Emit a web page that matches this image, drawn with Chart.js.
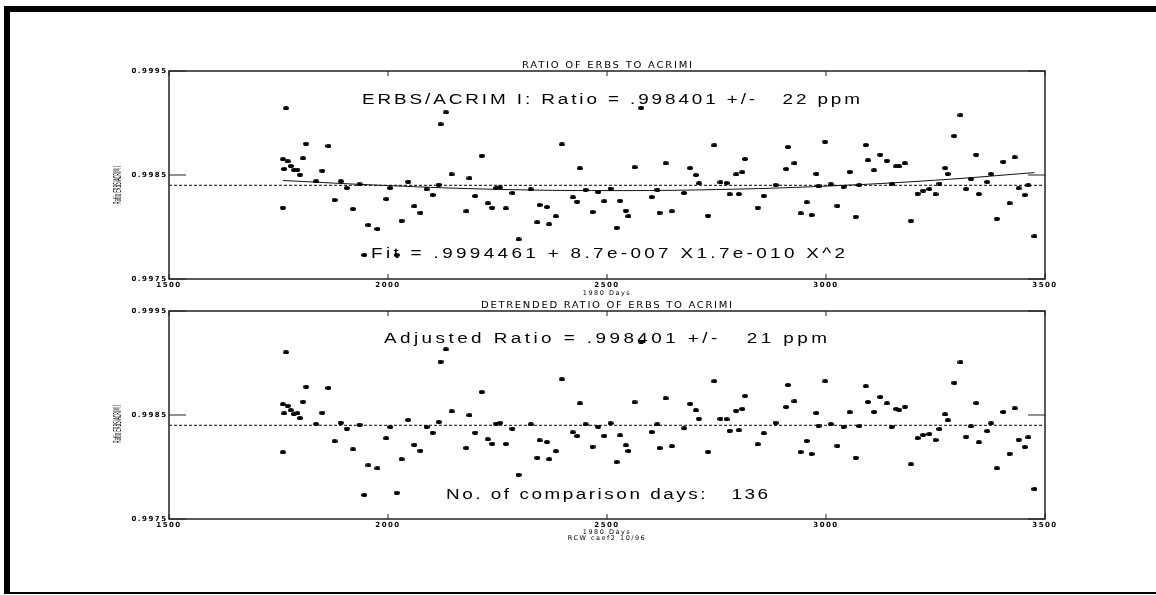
<!DOCTYPE html>
<html>
<head>
<meta charset="utf-8">
<script src="https://cdn.jsdelivr.net/npm/chart.js@4"></script>
<style>
  html, body { margin: 0; padding: 0; background: #fff; }
  body { width: 1156px; height: 595px; position: relative; overflow: hidden; }
  #frame { position: absolute; left: 4px; top: 6px; width: 1152px; height: 588px; box-sizing: border-box;
           border-top: 6px solid #000; border-left: 6px solid #000; border-bottom: 2px solid #000; }
  canvas { position: absolute; left: 0; }
  #topChart { top: 0; }
  #bottomChart { top: 295px; }
</style>
</head>
<body>
<div id="frame"></div>
<canvas id="topChart" width="1156" height="300"></canvas>
<canvas id="bottomChart" width="1156" height="300"></canvas>
<script>
// 1980 day numbers of the 136 comparison days
const days = [
  1760, 1760, 1763, 1767, 1771, 1778, 1785, 1793, 1799, 1806,
  1813, 1836, 1850, 1864, 1878, 1892, 1906, 1920, 1935, 1946,
  1955, 1976, 1996, 2005, 2020, 2031, 2046, 2060, 2074, 2088,
  2102, 2116, 2120, 2132, 2145, 2179, 2186, 2199, 2214, 2228,
  2238, 2247, 2256, 2269, 2284, 2298, 2326, 2341, 2346, 2363,
  2368, 2383, 2397, 2422, 2432, 2438, 2451, 2467, 2480, 2494,
  2508, 2522, 2530, 2543, 2549, 2563, 2578, 2602, 2615, 2620,
  2634, 2648, 2676, 2690, 2703, 2710, 2731, 2745, 2759, 2773,
  2780, 2795, 2801, 2809, 2815, 2844, 2858, 2885, 2909, 2913,
  2928, 2942, 2956, 2967, 2978, 2983, 2998, 3011, 3026, 3040,
  3054, 3068, 3076, 3091, 3096, 3110, 3124, 3139, 3150, 3160,
  3167, 3180, 3194, 3209, 3222, 3236, 3250, 3259, 3272, 3278,
  3293, 3307, 3320, 3331, 3343, 3349, 3368, 3377, 3390, 3405,
  3419, 3431, 3440, 3454, 3462, 3476
];

// ERBS / ACRIM I ratio
const ratio = [
  0.998651, 0.998186, 0.998558, 0.999141, 0.998631, 0.998587, 0.998548, 0.998551, 0.998503, 0.998660,
  0.998801, 0.998439, 0.998542, 0.998779, 0.998260, 0.998439, 0.998375, 0.998173, 0.998410, 0.997731,
  0.998019, 0.997981, 0.998269, 0.998375, 0.997731, 0.998061, 0.998436, 0.998199, 0.998138, 0.998362,
  0.998308, 0.998407, 0.998987, 0.999103, 0.998506, 0.998151, 0.998468, 0.998298, 0.998686, 0.998228,
  0.998186, 0.998375, 0.998381, 0.998179, 0.998327, 0.997881, 0.998362, 0.998045, 0.998212, 0.998192,
  0.998026, 0.998103, 0.998795, 0.998285, 0.998244, 0.998564, 0.998359, 0.998144, 0.998337, 0.998247,
  0.998369, 0.997994, 0.998253, 0.998157, 0.998103, 0.998574, 0.999147, 0.998288, 0.998359, 0.998138,
  0.998612, 0.998151, 0.998327, 0.998567, 0.998500, 0.998420, 0.998109, 0.998785, 0.998429, 0.998423,
  0.998314, 0.998506, 0.998317, 0.998526, 0.998654, 0.998186, 0.998301, 0.998404, 0.998558, 0.998769,
  0.998612, 0.998131, 0.998237, 0.998115, 0.998513, 0.998391, 0.998821, 0.998410, 0.998205, 0.998388,
  0.998529, 0.998099, 0.998404, 0.998788, 0.998641, 0.998545, 0.998696, 0.998638, 0.998413, 0.998583,
  0.998583, 0.998612, 0.998061, 0.998321, 0.998349, 0.998365, 0.998314, 0.998417, 0.998567, 0.998510,
  0.998875, 0.999074, 0.998365, 0.998462, 0.998696, 0.998317, 0.998433, 0.998510, 0.998080, 0.998628,
  0.998228, 0.998670, 0.998372, 0.998308, 0.998401, 0.997910
];

// detrended (adjusted) ratio
const adjusted = [
  0.998603, 0.998141, 0.998516, 0.999103, 0.998590, 0.998545, 0.998510, 0.998516, 0.998471, 0.998628,
  0.998772, 0.998413, 0.998522, 0.998760, 0.998247, 0.998426, 0.998369, 0.998170, 0.998407, 0.997731,
  0.998016, 0.997987, 0.998276, 0.998385, 0.997753, 0.998074, 0.998452, 0.998215, 0.998157, 0.998385,
  0.998330, 0.998433, 0.999013, 0.999131, 0.998535, 0.998183, 0.998497, 0.998330, 0.998721, 0.998266,
  0.998224, 0.998417, 0.998423, 0.998221, 0.998369, 0.997926, 0.998410, 0.998090, 0.998256, 0.998240,
  0.998074, 0.998151, 0.998843, 0.998333, 0.998298, 0.998612, 0.998410, 0.998196, 0.998388, 0.998301,
  0.998420, 0.998048, 0.998304, 0.998208, 0.998154, 0.998622, 0.999205, 0.998337, 0.998410, 0.998183,
  0.998660, 0.998199, 0.998372, 0.998609, 0.998545, 0.998465, 0.998147, 0.998824, 0.998465, 0.998458,
  0.998349, 0.998542, 0.998353, 0.998558, 0.998683, 0.998218, 0.998324, 0.998426, 0.998577, 0.998788,
  0.998631, 0.998144, 0.998250, 0.998125, 0.998519, 0.998397, 0.998824, 0.998413, 0.998205, 0.998388,
  0.998526, 0.998090, 0.998394, 0.998776, 0.998625, 0.998529, 0.998673, 0.998612, 0.998388, 0.998558,
  0.998551, 0.998580, 0.998026, 0.998279, 0.998308, 0.998317, 0.998260, 0.998365, 0.998506, 0.998449,
  0.998811, 0.999006, 0.998292, 0.998391, 0.998615, 0.998237, 0.998346, 0.998420, 0.997987, 0.998529,
  0.998128, 0.998564, 0.998263, 0.998192, 0.998285, 0.997788
];

// quadratic fit curve
const fitDays = [1760, 2000, 2250, 2500, 2750, 3000, 3250, 3476];
const fitRatio = [0.998447, 0.998398, 0.998362, 0.998350, 0.998360, 0.998393, 0.998450, 0.998523];

const meanRatio = 0.998401;
const xTicks = [1500, 2000, 2500, 3000, 3500];
const yTicks = [0.9975, 0.9985, 0.9995];

// small flattened dot like the plotter symbol
const dot = document.createElement('canvas');
dot.width = 6; dot.height = 4;
const dctx = dot.getContext('2d');
dctx.fillStyle = '#000';
dctx.beginPath();
dctx.ellipse(3, 2, 3, 2, 0, 0, Math.PI * 2);
dctx.fill();

// widen the glyphs and stretch text to the width it has in the plot
function fitText(ctx, text, x0, x1, y, font, sx) {
  ctx.save();
  ctx.font = font;
  ctx.letterSpacing = '0px';
  const w = ctx.measureText(text).width;
  ctx.translate(x0, y);
  ctx.scale(sx, 1);
  ctx.letterSpacing = (((x1 - x0) / sx - w) / (text.length - 1)) + 'px';
  ctx.textAlign = 'left';
  ctx.textBaseline = 'alphabetic';
  ctx.fillText(text, 0, 0);
  ctx.restore();
}

const panelPlugin = {
  id: 'panel',
  beforeDraw(chart) {
    chart.ctx.letterSpacing = '1.5px';
  },
  afterDraw(chart, args, o) {
    const ctx = chart.ctx;
    const a = chart.chartArea;
    const xs = chart.scales.x, ys = chart.scales.y;
    ctx.save();
    ctx.letterSpacing = '0px';
    ctx.strokeStyle = '#222';
    ctx.lineWidth = 1.5;
    ctx.strokeRect(a.left, a.top, a.right - a.left, a.bottom - a.top);

    // inward tick marks
    ctx.lineWidth = 1;
    ctx.beginPath();
    ys.ticks.forEach(t => {
      const py = ys.getPixelForValue(t.value);
      ctx.moveTo(a.left, py); ctx.lineTo(a.left + 17, py);
      ctx.moveTo(a.right, py); ctx.lineTo(a.right - 17, py);
    });
    xs.ticks.forEach(t => {
      const px = xs.getPixelForValue(t.value);
      ctx.moveTo(px, a.top); ctx.lineTo(px, a.top + 5);
      ctx.moveTo(px, a.bottom); ctx.lineTo(px, a.bottom - 5);
    });
    ctx.stroke();

    ctx.fillStyle = '#000';
    fitText(ctx, o.title, o.titleX[0], o.titleX[1], o.titleY, '8px "DejaVu Sans"', 1.25);
    o.notes.forEach(n => fitText(ctx, n.text, n.x0, n.x1, n.y, '14px "Liberation Sans"', 1.35));

    // y axis label, very condensed
    const label = 'Ratio ERBS/ACRIM I';
    ctx.translate(118, o.labelY);
    ctx.rotate(-Math.PI / 2);
    ctx.font = '10px "DejaVu Sans"';
    const lw = ctx.measureText(label).width;
    ctx.scale(38 / lw, 1);
    ctx.textAlign = 'center';
    ctx.textBaseline = 'middle';
    ctx.fillText(label, 0, 0);
    ctx.restore();
  }
};

function makePanel(id, values, extra, opts) {
  const tickFont = { family: 'DejaVu Sans', size: 7, weight: 'bold' };
  const datasets = [{
    data: days.map((d, i) => ({ x: d, y: values[i] })),
    pointStyle: dot,
    pointRadius: 3,
    showLine: false
  }].concat(extra).concat([{
    data: [{ x: 1500, y: meanRatio }, { x: 3500, y: meanRatio }],
    showLine: true,
    borderColor: '#000',
    borderWidth: 1,
    borderDash: [3, 2],
    pointRadius: 0
  }]);

  return new Chart(document.getElementById(id), {
    type: 'scatter',
    data: { datasets: datasets },
    plugins: [panelPlugin],
    options: {
      responsive: false,
      animation: false,
      devicePixelRatio: 1,
      layout: { padding: { left: 0, right: 111, top: opts.padTop, bottom: 0 } },
      plugins: {
        legend: { display: false },
        tooltip: { enabled: false },
        panel: opts.panel
      },
      scales: {
        x: {
          type: 'linear', min: 1500, max: 3500,
          afterBuildTicks: s => { s.ticks = xTicks.map(v => ({ value: v })); },
          afterFit: s => { s.height = opts.xHeight; },
          grid: { display: false, drawTicks: false },
          border: { display: false },
          ticks: { padding: 1.5, color: '#000', font: tickFont, maxRotation: 0, autoSkip: false,
                   callback: v => String(v) },
          title: { display: true, text: opts.xTitle, color: '#000',
                   font: { family: 'DejaVu Sans', size: 6.5, lineHeight: 1 },
                   padding: { top: 0, bottom: opts.titlePad } }
        },
        y: {
          type: 'linear', min: 0.9975, max: 0.9995,
          afterBuildTicks: s => { s.ticks = yTicks.map(v => ({ value: v })); },
          afterFit: s => { s.width = 169; },
          grid: { display: false, drawTicks: false },
          border: { display: false },
          ticks: { padding: 1.5, color: '#000', font: tickFont, autoSkip: false,
                   callback: v => v.toFixed(4) }
        }
      }
    }
  });
}

makePanel('topChart', ratio, [{
  data: fitDays.map((d, i) => ({ x: d, y: fitRatio[i] })),
  showLine: true,
  borderColor: '#111',
  borderWidth: 1,
  tension: 0.4,
  pointRadius: 0
}], {
  padTop: 71, xHeight: 21, titlePad: 3.4, xTitle: ['1980 Days'],
  panel: {
    title: 'RATIO OF ERBS TO ACRIMI', titleX: [522, 692], titleY: 68.3, labelY: 185,
    notes: [
      { text: 'ERBS/ACRIM I: Ratio = .998401 +/-   22 ppm', x0: 362, x1: 860, y: 104 },
      { text: 'Fit = .9994461 + 8.7e-007 X1.7e-010 X^2', x0: 371, x1: 845, y: 258 }
    ]
  }
});

makePanel('bottomChart', adjusted, [], {
  padTop: 16, xHeight: 76, titlePad: 53.2, xTitle: ['1980 Days', 'RCW caef2 10/96'],
  panel: {
    title: 'DETRENDED RATIO OF ERBS TO ACRIMI', titleX: [481, 732], titleY: 13.3, labelY: 129,
    notes: [
      { text: 'Adjusted Ratio = .998401 +/-   21 ppm', x0: 384, x1: 827, y: 48 },
      { text: 'No. of comparison days:   136', x0: 446, x1: 768, y: 204 }
    ]
  }
});
</script>
</body>
</html>
